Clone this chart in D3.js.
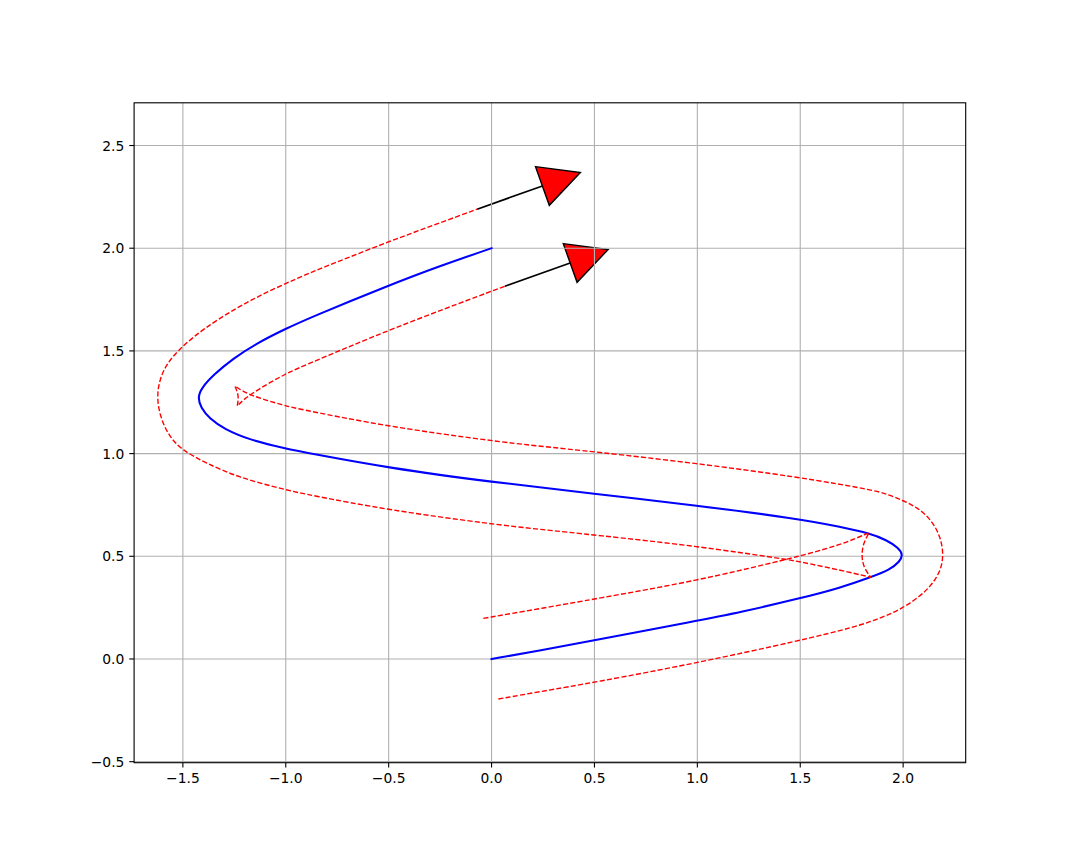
<!DOCTYPE html>
<html><head><meta charset="utf-8">
<script src="https://cdn.jsdelivr.net/npm/d3@7"></script>
<style>body{margin:0;background:#fff} svg{display:block}</style>
</head><body>
<svg id="chart" width="1073" height="857"></svg>
<script>
// ---- data ----
const xTicks = [-1.5, -1.0, -0.5, 0.0, 0.5, 1.0, 1.5, 2.0];
const yTicks = [-0.5, 0.0, 0.5, 1.0, 1.5, 2.0, 2.5];
const xDomain = [-1.737, 2.304];
const yDomain = [-0.505, 2.708];

// main (blue) curve
const mainCurve = [
  [0,0],[0.235,0.041],[0.499,0.091],[0.995,0.185],[1.207,0.227],[1.495,0.294],
  [1.693,0.346],[1.842,0.398],[1.936,0.435],[1.984,0.474],[1.999,0.508],[1.978,0.541],
  [1.920,0.579],[1.837,0.612],[1.693,0.644],[1.495,0.682],[0.995,0.748],[0.499,0.804],
  [0,0.862],[-0.5,0.930],[-0.882,1.001],[-1.0,1.024],[-1.174,1.066],[-1.300,1.120],
  [-1.370,1.170],[-1.413,1.224],[-1.428,1.274],[-1.409,1.320],[-1.352,1.383],
  [-1.255,1.464],[-1.141,1.537],[-1.0,1.608],[-0.882,1.662],[-0.5,1.819],
  [-0.247,1.915],[0,2.0]
];

// offset curve on the left-hand side (segments split at cusps)
const offsetLeftA = [
  [-0.040,0.198],[0.235,0.245],[0.499,0.292],[0.995,0.380],[1.434,0.485],
  [1.495,0.501],[1.693,0.554],[1.835,0.615]
];
const offsetLeftB = [
  [1.835,0.615],[1.806,0.563],[1.798,0.506],[1.806,0.449],[1.842,0.398]
];
const offsetLeftC = [
  [1.842,0.398],[1.693,0.433],[1.495,0.474],[1.434,0.485],[0.995,0.550],
  [0.499,0.604],[0.235,0.631],[0,0.657],[-0.5,0.725],[-0.882,0.798],[-1.0,0.823],
  [-1.234,0.885],[-1.390,0.955],[-1.505,1.017],[-1.568,1.085],[-1.611,1.180],
  [-1.627,1.277],[-1.612,1.365],[-1.578,1.437],[-1.525,1.500],[-1.449,1.569],
  [-1.336,1.650],[-1.174,1.748],[-0.931,1.861],[-0.766,1.927],[-0.5,2.032],
  [-0.280,2.113],[-0.070,2.190]
];

// offset curve on the right-hand side (segments split at cusps)
const offsetRightA = [
  [0.033,-0.195],[0.235,-0.159],[0.499,-0.114],[0.995,-0.020],[1.495,0.089],
  [1.774,0.157],[1.900,0.203],[1.998,0.247],[2.085,0.308],[2.130,0.352],
  [2.163,0.397],[2.186,0.447],[2.195,0.506],[2.186,0.575],[2.160,0.640],
  [2.115,0.700],[2.060,0.742],[1.998,0.772],[1.930,0.800],[1.855,0.823],
  [1.495,0.885],[0.995,0.953],[0.499,1.009],[0.235,1.036],[0,1.062],
  [-0.5,1.131],[-0.931,1.216],[-1.0,1.232],[-1.182,1.285],[-1.247,1.329]
];
const offsetRightB = [
  [-1.247,1.329],[-1.227,1.280],[-1.236,1.232]
];
const offsetRightC = [
  [-1.236,1.232],[-1.182,1.285],[-1.0,1.391],[-0.882,1.440],[-0.5,1.603],[0.065,1.815]
];

// arrows: start point, body vector, head size (data units)
const arrowStarts = [[-0.070, 2.190], [0.065, 1.815]];
const arrowVectors = [[0.317, 0.113], [0.317, 0.113]];
const arrowHeadWidth = [0.2, 0.2];
const arrowHeadLength = [0.196, 0.196];

(function () {
// ---- layout ----
const W = 1073, H = 857;
const mL = 134.1, mR = 965.7, mT = 102.8, mB = 762.7;
const PT = 100 / 72;

const svg = d3.select('#chart');
const x = d3.scaleLinear().domain(xDomain).range([mL, mR]);
const y = d3.scaleLinear().domain(yDomain).range([mB, mT]);

svg.append('rect').attr('x', 0).attr('y', 0).attr('width', W).attr('height', H).attr('fill', '#fff');

svg.append('defs').append('clipPath').attr('id', 'clip')
  .append('rect').attr('x', mL).attr('y', mT).attr('width', mR - mL).attr('height', mB - mT);

const plot = svg.append('g').attr('clip-path', 'url(#clip)');

// arrows (patches, below the grid)
arrowStarts.forEach((s, i) => {
  const v = arrowVectors[i];
  const len = Math.hypot(v[0], v[1]);
  const u = [v[0] / len, v[1] / len];
  const p = [-u[1], u[0]];
  const base = [s[0] + v[0], s[1] + v[1]];
  const tip = [base[0] + arrowHeadLength[i] * u[0], base[1] + arrowHeadLength[i] * u[1]];
  const hw = arrowHeadWidth[i] / 2;
  const c1 = [base[0] + hw * p[0], base[1] + hw * p[1]];
  const c2 = [base[0] - hw * p[0], base[1] - hw * p[1]];
  plot.append('line')
    .attr('x1', x(s[0])).attr('y1', y(s[1]))
    .attr('x2', x(base[0])).attr('y2', y(base[1]))
    .attr('stroke', '#000').attr('stroke-width', 1.7);
  plot.append('polygon')
    .attr('points', [c1, tip, c2].map(d => x(d[0]) + ',' + y(d[1])).join(' '))
    .attr('fill', '#ff0000').attr('stroke', '#000').attr('stroke-width', PT)
    .attr('stroke-linejoin', 'miter');
});

// grid
const grid = plot.append('g');
grid.selectAll('line.gx').data(xTicks).enter().append('line').attr('class', 'gx')
  .attr('x1', d => x(d)).attr('x2', d => x(d)).attr('y1', mT).attr('y2', mB)
  .attr('stroke', '#b0b0b0').attr('stroke-width', 0.8 * PT);
grid.selectAll('line.gy').data(yTicks).enter().append('line').attr('class', 'gy')
  .attr('y1', d => y(d)).attr('y2', d => y(d)).attr('x1', mL).attr('x2', mR)
  .attr('stroke', '#b0b0b0').attr('stroke-width', 0.8 * PT);

// curves (B-spline through the read points, split at cusps)
const line = d3.line().x(d => x(d[0])).y(d => y(d[1])).curve(d3.curveBasis);
function joined(segs) {
  return segs.map((s, i) => { const p = line(s); return i === 0 ? p : p.replace(/^M/, 'L'); }).join('');
}

plot.append('path').attr('d', line(mainCurve))
  .attr('fill', 'none').attr('stroke', '#0000ff').attr('stroke-width', 1.5 * PT)
  .attr('stroke-linecap', 'square').attr('stroke-linejoin', 'round');

[[offsetLeftA, offsetLeftB, offsetLeftC], [offsetRightA, offsetRightB, offsetRightC]].forEach(segs => {
  plot.append('path').attr('d', joined(segs))
    .attr('fill', 'none').attr('stroke', '#ff0000').attr('stroke-width', PT)
    .attr('stroke-dasharray', (3.7 * PT) + ',' + (1.6 * PT))
    .attr('stroke-linejoin', 'round');
});

// spines
svg.append('rect').attr('x', mL).attr('y', mT).attr('width', mR - mL).attr('height', mB - mT)
  .attr('fill', 'none').attr('stroke', '#000').attr('stroke-width', 0.8 * PT);

// ticks and labels
const fmt = v => d3.format('.1f')(v).replace('-', '\u2212');
const tickLen = 3.5 * PT, pad = 3.5 * PT;
const fontSize = 10 * PT;

const xa = svg.append('g');
xa.selectAll('line').data(xTicks).enter().append('line')
  .attr('x1', d => x(d)).attr('x2', d => x(d)).attr('y1', mB).attr('y2', mB + tickLen)
  .attr('stroke', '#000').attr('stroke-width', 0.8 * PT);
xa.selectAll('text').data(xTicks).enter().append('text')
  .attr('x', d => x(d)).attr('y', mB + tickLen + pad + 0.76 * fontSize)
  .attr('text-anchor', 'middle').attr('font-family', 'DejaVu Sans').attr('font-size', fontSize)
  .attr('fill', '#000').text(fmt);

const ya = svg.append('g');
ya.selectAll('line').data(yTicks).enter().append('line')
  .attr('y1', d => y(d)).attr('y2', d => y(d)).attr('x1', mL - tickLen).attr('x2', mL)
  .attr('stroke', '#000').attr('stroke-width', 0.8 * PT);
ya.selectAll('text').data(yTicks).enter().append('text')
  .attr('x', mL - tickLen - pad).attr('y', d => y(d) + 0.365 * fontSize)
  .attr('text-anchor', 'end').attr('font-family', 'DejaVu Sans').attr('font-size', fontSize)
  .attr('fill', '#000').text(fmt);
})();
</script>
</body></html>
